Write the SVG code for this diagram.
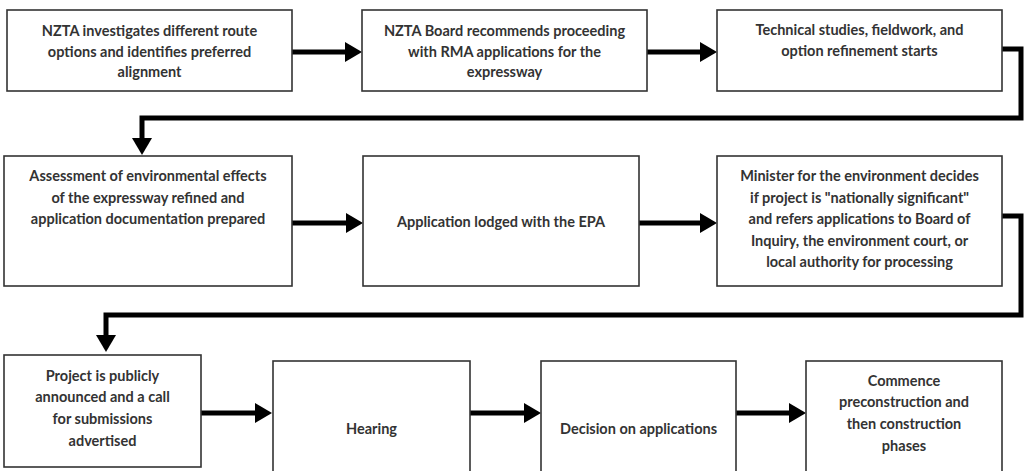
<svg xmlns="http://www.w3.org/2000/svg" width="1025" height="471" viewBox="0 0 1025 471">
<style>
.box{fill:#fff;stroke:#333;stroke-width:1.6}
.t{font-family:Lato,"Open Sans","Liberation Sans",sans-serif;font-weight:bold;font-size:14.5px;fill:#333;text-anchor:middle}
.c{fill:none;stroke:#000;stroke-width:5;stroke-linejoin:miter}
</style>
<defs>
<marker id="ah" markerUnits="userSpaceOnUse" markerWidth="18" markerHeight="20" viewBox="0 0 18 20" refX="2" refY="10" orient="auto">
<path d="M0,0 L17,10 L0,20 z" fill="#000"/>
</marker>
</defs>
<rect width="1025" height="471" fill="#fff"/>
<g id="connectors">
<path class="c" d="M292,52 H347" marker-end="url(#ah)"/>
<path class="c" d="M647,52 H702" marker-end="url(#ah)"/>
<path class="c" d="M1002,49 H1021 V118 H142 V140" marker-end="url(#ah)"/>
<path class="c" d="M292,223 H348" marker-end="url(#ah)"/>
<path class="c" d="M639,223 H702" marker-end="url(#ah)"/>
<path class="c" d="M1002,216 H1021 V315 H106 V337" marker-end="url(#ah)"/>
<path class="c" d="M201,413 H257" marker-end="url(#ah)"/>
<path class="c" d="M470,413 H526" marker-end="url(#ah)"/>
<path class="c" d="M736,413 H791" marker-end="url(#ah)"/>
</g>
<g id="n1"><rect class="box" x="7" y="10" width="285" height="81"/>
<text class="t" x="149.5" y="36">NZTA investigates different route</text>
<text class="t" x="149.5" y="57">options and identifies preferred</text>
<text class="t" x="149.5" y="77">alignment</text></g>
<g id="n2"><rect class="box" x="362" y="10" width="285" height="81"/>
<text class="t" x="504.5" y="36">NZTA Board recommends proceeding</text>
<text class="t" x="504.5" y="57">with RMA applications for the</text>
<text class="t" x="504.5" y="77">expressway</text></g>
<g id="n3"><rect class="box" x="717" y="10" width="285" height="81"/>
<text class="t" x="859.5" y="35">Technical studies, fieldwork, and</text>
<text class="t" x="859.5" y="56">option refinement starts</text></g>
<g id="n4"><rect class="box" x="4" y="156" width="288" height="130"/>
<text class="t" x="148" y="181">Assessment of environmental effects</text>
<text class="t" x="148" y="203">of the expressway refined and</text>
<text class="t" x="148" y="224">application documentation prepared</text></g>
<g id="n5"><rect class="box" x="363" y="156" width="276" height="130"/>
<text class="t" x="501" y="227">Application lodged with the EPA</text></g>
<g id="n6"><rect class="box" x="717" y="156" width="285" height="130"/>
<text class="t" x="859.5" y="181">Minister for the environment decides</text>
<text class="t" x="859.5" y="203">if project is "nationally significant"</text>
<text class="t" x="859.5" y="224">and refers applications to Board of</text>
<text class="t" x="859.5" y="246">Inquiry, the environment court, or</text>
<text class="t" x="859.5" y="267">local authority for processing</text></g>
<g id="n7"><rect class="box" x="4" y="355" width="197" height="112"/>
<text class="t" x="102.5" y="381">Project is publicly</text>
<text class="t" x="102.5" y="402">announced and a call</text>
<text class="t" x="102.5" y="424">for submissions</text>
<text class="t" x="102.5" y="446">advertised</text></g>
<g id="n8"><rect class="box" x="273" y="361" width="197" height="120"/>
<text class="t" x="371.5" y="434">Hearing</text></g>
<g id="n9"><rect class="box" x="541" y="361" width="195" height="120"/>
<text class="t" x="638.5" y="434">Decision on applications</text></g>
<g id="n10"><rect class="box" x="806" y="361" width="196" height="120"/>
<text class="t" x="904" y="386">Commence</text>
<text class="t" x="904" y="407">preconstruction and</text>
<text class="t" x="904" y="429">then construction</text>
<text class="t" x="904" y="451">phases</text></g>
</svg>
